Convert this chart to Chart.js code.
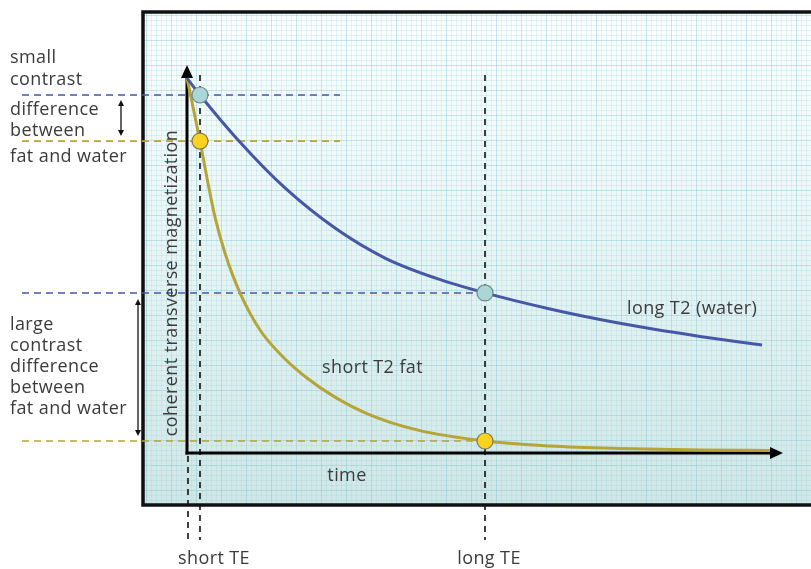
<!DOCTYPE html>
<html><head><meta charset="utf-8">
<script src="https://cdn.jsdelivr.net/npm/chart.js@4.4.1/dist/chart.umd.min.js"></script>
<style>html,body{margin:0;padding:0;background:#fff;}#wrap{width:811px;height:569px;}</style>
</head><body><div id="wrap"><canvas id="c" width="811" height="569"></canvas></div>
<script>
// ---- data (time in arbitrary units 0..100, magnetization normalised 0..1) ----
const waterTime = [0, 2.18, 8.56, 16.44, 24.83, 33.22, 41.61, 50, 60.91, 69.3, 77.68, 86.07, 96.48];
const waterMag  = [1.0, 0.955, 0.835, 0.707, 0.600, 0.520, 0.467, 0.427, 0.384, 0.356, 0.332, 0.311, 0.288];
const fatTime   = [0, 2.18, 3.36, 4.70, 6.38, 8.89, 12.25, 16.11, 20.13, 24.83, 30.37, 38.76, 50, 60.9, 72.65, 86.07, 97.8];
const fatMag    = [1.0, 0.832, 0.733, 0.629, 0.533, 0.427, 0.328, 0.256, 0.200, 0.149, 0.104, 0.061, 0.032, 0.0187, 0.012, 0.008, 0.0067];
const teTimes   = [2.18, 50];           // short TE, long TE
const teLabels  = ['short TE', 'long TE'];
const waterAtTE = [0.955, 0.427];
const fatAtTE   = [0.832, 0.032];
const leftTopText = ['small', 'contrast', 'difference', 'between', 'fat and water'];
const leftBottomText = ['large', 'contrast', 'difference', 'between', 'fat and water'];

const toXY = (ts, vs) => ts.map((t, i) => ({x: t, y: vs[i]}));

const BLUE = '#4657a6', OLIVE = '#b6a436', TXT = '#3b3b3b';
const FONT = '"Open Sans", "DejaVu Sans", sans-serif';

function dashedLine(ctx, x1, y1, x2, y2, color, w, dash) {
  ctx.save(); ctx.strokeStyle = color; ctx.lineWidth = w; ctx.setLineDash(dash);
  ctx.beginPath(); ctx.moveTo(x1, y1); ctx.lineTo(x2, y2); ctx.stroke(); ctx.restore();
}
function dblArrow(ctx, x, y1, y2) {
  ctx.save(); ctx.strokeStyle = '#111'; ctx.fillStyle = '#111'; ctx.lineWidth = 1.3;
  ctx.beginPath(); ctx.moveTo(x, y1 + 3); ctx.lineTo(x, y2 - 3); ctx.stroke();
  ctx.beginPath(); ctx.moveTo(x, y1); ctx.lineTo(x - 3, y1 + 6); ctx.lineTo(x + 3, y1 + 6); ctx.closePath(); ctx.fill();
  ctx.beginPath(); ctx.moveTo(x, y2); ctx.lineTo(x - 3, y2 - 6); ctx.lineTo(x + 3, y2 - 6); ctx.closePath(); ctx.fill();
  ctx.restore();
}

const deco = {
  id: 'deco',
  beforeDraw(chart) {
    const ctx = chart.ctx;
    const L = 143, T = 12, R = 830, B = 505;
    ctx.save();
    const g = ctx.createLinearGradient(0, T, 0, B);
    g.addColorStop(0, '#fbfefe'); g.addColorStop(0.45, '#eaf6f6'); g.addColorStop(1, '#cfe6e7');
    ctx.fillStyle = g; ctx.fillRect(L, T, R - L, B - T);
    ctx.lineWidth = 1;
    let k = 0;
    for (let x = L + 3; x < R; x += 5, k++) {
      ctx.strokeStyle = (k % 5 === 0) ? 'rgba(125,198,208,0.42)' : 'rgba(150,210,218,0.24)';
      ctx.beginPath(); ctx.moveTo(x + 0.5, T); ctx.lineTo(x + 0.5, B); ctx.stroke();
    }
    k = 0;
    for (let y = T + 3; y < B; y += 5, k++) {
      ctx.strokeStyle = (k % 5 === 0) ? 'rgba(125,198,208,0.42)' : 'rgba(150,210,218,0.24)';
      ctx.beginPath(); ctx.moveTo(L, y + 0.5); ctx.lineTo(R, y + 0.5); ctx.stroke();
    }
    ctx.strokeStyle = '#111'; ctx.lineWidth = 3.5;
    ctx.strokeRect(L, T, R - L, B - T);
    ctx.restore();
  },
  beforeDatasetsDraw(chart) {
    const ctx = chart.ctx, xs = chart.scales.x, ys = chart.scales.y;
    const x0 = xs.getPixelForValue(0), y0 = ys.getPixelForValue(0);
    const xS = xs.getPixelForValue(teTimes[0]), xL = xs.getPixelForValue(teTimes[1]);
    const wS = ys.getPixelForValue(waterAtTE[0]), fS = ys.getPixelForValue(fatAtTE[0]);
    const wL = ys.getPixelForValue(waterAtTE[1]), fL = ys.getPixelForValue(fatAtTE[1]);
    dashedLine(ctx, 22, wS, 340, wS, BLUE, 1.6, [7, 5]);
    dashedLine(ctx, 22, fS, 340, fS, OLIVE, 1.6, [7, 5]);
    dashedLine(ctx, 22, wL, xL, wL, BLUE, 1.6, [7, 5]);
    dashedLine(ctx, 22, fL, xL, fL, OLIVE, 1.6, [7, 5]);
    dashedLine(ctx, x0 + 1, y0 + 3, x0 + 1, 540, '#111', 1.6, [6, 5]);
    dashedLine(ctx, xS, 75, xS, 540, '#111', 1.6, [6, 5]);
    dashedLine(ctx, xL, 75, xL, 540, '#111', 1.6, [6, 5]);
    const xEnd = xs.right, yTop = ys.top;
    ctx.save(); ctx.strokeStyle = '#000'; ctx.fillStyle = '#000'; ctx.lineWidth = 3;
    ctx.beginPath(); ctx.moveTo(x0, y0 + 1.5); ctx.lineTo(x0, yTop + 10); ctx.stroke();
    ctx.beginPath(); ctx.moveTo(x0 - 1.5, y0); ctx.lineTo(xEnd - 10, y0); ctx.stroke();
    ctx.beginPath(); ctx.moveTo(x0, yTop); ctx.lineTo(x0 - 6, yTop + 13); ctx.lineTo(x0 + 6, yTop + 13); ctx.closePath(); ctx.fill();
    ctx.beginPath(); ctx.moveTo(xEnd, y0); ctx.lineTo(xEnd - 13, y0 - 6); ctx.lineTo(xEnd - 13, y0 + 6); ctx.closePath(); ctx.fill();
    ctx.restore();
    dblArrow(ctx, 121, wS + 5, fS - 5);
    dblArrow(ctx, 138, wL + 6, fL - 5);
    ctx.save(); ctx.fillStyle = TXT; ctx.font = '18px ' + FONT; ctx.textBaseline = 'middle'; ctx.textAlign = 'left';
    ctx.letterSpacing = '0.4px';
    const topY = [58, 80, 110, 131, 157];
    leftTopText.forEach((t, i) => ctx.fillText(t, 10, topY[i]));
    const botY = [325, 346, 367, 388, 409];
    leftBottomText.forEach((t, i) => ctx.fillText(t, 10, botY[i]));
    ctx.fillText('long T2 (water)', 627, 309);
    ctx.fillText('short T2 fat', 322, 368);
    ctx.textAlign = 'center';
    ctx.fillText('time', 347, 476);
    ctx.fillText(teLabels[0], 214, 559);
    ctx.fillText(teLabels[1], 489, 559);
    ctx.translate(172, 283); ctx.rotate(-Math.PI / 2);
    ctx.fillText('coherent transverse magnetization', 0, 0);
    ctx.restore();
  }
};

new Chart(document.getElementById('c'), {
  type: 'scatter',
  data: {
    datasets: [
      { label: 'water at TE', data: toXY(teTimes, waterAtTE), pointRadius: 8, pointBackgroundColor: '#a9d6d7',
        pointBorderColor: '#6f8a8c', pointBorderWidth: 1.2, showLine: false, clip: false },
      { label: 'fat at TE', data: toXY(teTimes, fatAtTE), pointRadius: 8, pointBackgroundColor: '#fcd21c',
        pointBorderColor: '#7d7a55', pointBorderWidth: 1.2, showLine: false, clip: false },
      { label: 'long T2 (water)', data: toXY(waterTime, waterMag), showLine: true, borderColor: BLUE,
        borderWidth: 3, pointRadius: 0, cubicInterpolationMode: 'monotone', clip: false },
      { label: 'short T2 fat', data: toXY(fatTime, fatMag), showLine: true, borderColor: OLIVE,
        borderWidth: 3, pointRadius: 0, cubicInterpolationMode: 'monotone', clip: false }
    ]
  },
  options: {
    responsive: false, animation: false, devicePixelRatio: 1,
    layout: { padding: { left: 187, right: 28, top: 65, bottom: 116 } },
    plugins: { legend: { display: false }, tooltip: { enabled: false } },
    scales: {
      x: { type: 'linear', min: 0, max: 100, display: false },
      y: { type: 'linear', min: 0, max: 1.035, display: false }
    }
  },
  plugins: [deco]
});
</script>
</body></html>
